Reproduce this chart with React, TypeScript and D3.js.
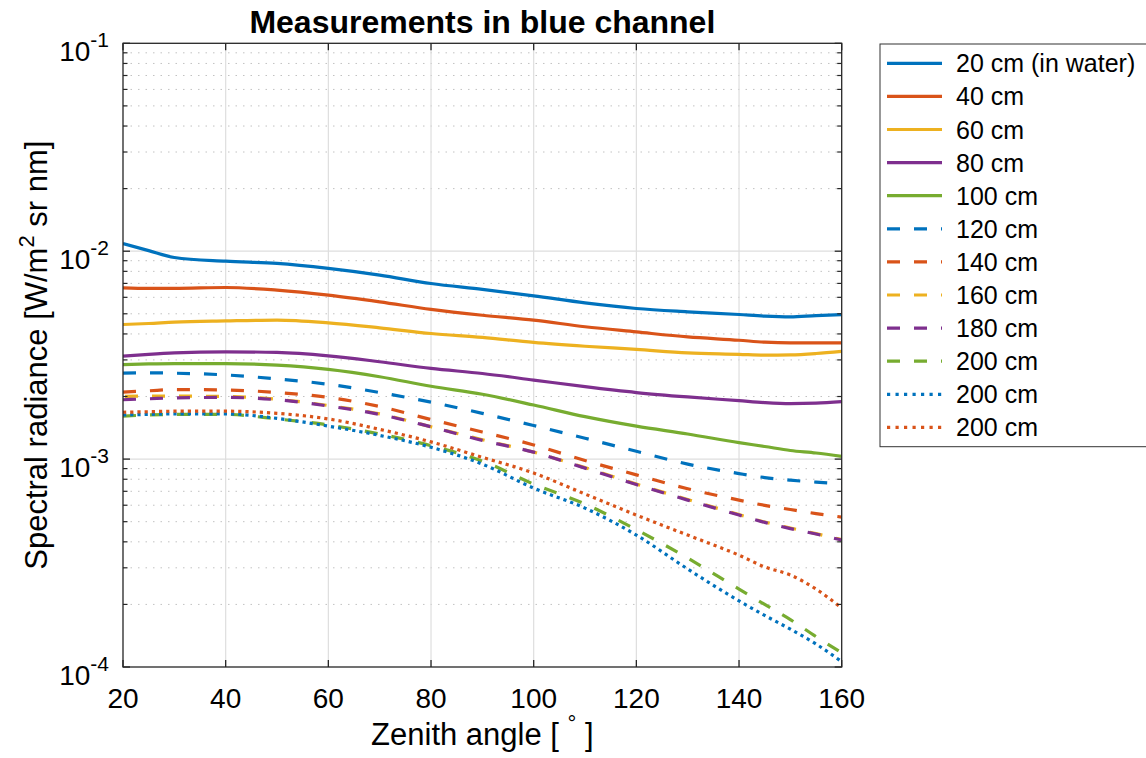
import React from "react";
import * as d3 from "d3";

const angles = [20, 25, 30, 40, 50, 60, 70, 80, 90, 100, 110, 120, 130, 140, 145, 150, 155, 160];

const s20 = [0.01089, 0.01006, 0.00933, 0.00895, 0.00873, 0.00826, 0.00767, 0.00699, 0.00655, 0.0061, 0.00564, 0.0053, 0.00511, 0.00496, 0.00487, 0.00483, 0.0049, 0.00495];
const s40 = [0.00666, 0.00662, 0.00662, 0.00669, 0.0065, 0.00615, 0.00571, 0.00525, 0.00492, 0.00466, 0.00433, 0.00409, 0.00387, 0.00373, 0.00365, 0.00362, 0.00362, 0.00362];
const s60 = [0.00444, 0.00449, 0.00456, 0.00462, 0.00466, 0.00452, 0.00428, 0.00402, 0.00385, 0.00364, 0.00349, 0.00337, 0.00324, 0.00319, 0.00316, 0.00317, 0.00322, 0.0033];
const s80 = [0.00313, 0.00319, 0.00324, 0.00328, 0.00326, 0.00314, 0.00294, 0.00273, 0.00258, 0.0024, 0.00223, 0.00209, 0.00199, 0.00191, 0.00187, 0.00185, 0.00186, 0.00189];
const s100 = [0.00285, 0.00287, 0.00288, 0.00288, 0.00283, 0.0027, 0.00249, 0.00224, 0.00205, 0.00182, 0.0016, 0.00144, 0.00132, 0.0012, 0.00115, 0.0011, 0.00107, 0.00103];
const s120 = [0.00259, 0.0026, 0.00259, 0.00254, 0.00243, 0.00229, 0.00209, 0.00188, 0.00166, 0.00145, 0.00126, 0.00109, 0.000946, 0.000852, 0.000815, 0.000792, 0.000775, 0.000762];
const s140 = [0.0021, 0.00213, 0.00216, 0.00215, 0.00209, 0.00198, 0.00179, 0.00155, 0.00135, 0.00117, 0.000984, 0.00084, 0.00072, 0.000635, 0.000599, 0.000572, 0.000547, 0.000526];
const s160 = [0.002, 0.00201, 0.00201, 0.002, 0.00194, 0.00181, 0.00165, 0.00143, 0.00124, 0.00108, 0.00091, 0.000758, 0.000639, 0.000541, 0.000498, 0.000466, 0.000438, 0.00041];
const s180 = [0.00193, 0.00195, 0.00197, 0.00198, 0.00193, 0.0018, 0.00164, 0.00143, 0.00123, 0.00108, 0.000905, 0.000754, 0.000635, 0.000538, 0.000496, 0.000463, 0.000436, 0.000408];
const s200a = [0.00161, 0.00163, 0.00164, 0.00164, 0.00156, 0.00146, 0.00132, 0.00116, 0.000978, 0.000758, 0.000608, 0.000458, 0.000334, 0.000237, 0.0002, 0.000169, 0.00014, 0.000117];
const s200b = [0.00163, 0.00164, 0.00165, 0.00165, 0.00157, 0.00144, 0.0013, 0.00114, 0.000946, 0.000725, 0.000581, 0.000431, 0.000296, 0.000208, 0.000177, 0.000152, 0.000129, 0.000106];
const s200c = [0.00168, 0.00169, 0.0017, 0.0017, 0.00166, 0.00156, 0.00139, 0.00121, 0.00102, 0.000857, 0.000679, 0.000538, 0.000431, 0.000345, 0.000303, 0.000277, 0.000237, 0.000192];

const seriesValues = [s20, s40, s60, s80, s100, s120, s140, s160, s180, s200a, s200b, s200c];
const seriesLabels = ["20 cm (in water)", "40 cm", "60 cm", "80 cm", "100 cm", "120 cm", "140 cm", "160 cm", "180 cm", "200 cm", "200 cm", "200 cm"];
const seriesStyles = ["solid", "solid", "solid", "solid", "solid", "dashed", "dashed", "dashed", "dashed", "dashed", "dotted", "dotted"];
const palette = ["#0072BD", "#D95319", "#EDB120", "#7E2F8E", "#77AC30"];

const xTicks = [20, 40, 60, 80, 100, 120, 140, 160];
const yExponents = [-4, -3, -2, -1];

const FONT = "'Liberation Sans', Arial, Helvetica, sans-serif";

export default function App() {
  const L = 123, R = 841.7, T = 43.3, B = 667;
  const x = d3.scaleLinear().domain([20, 160]).range([L, R]);
  const y = d3.scaleLog().domain([1e-4, 1e-1]).range([B, T]);

  const minorVals: number[] = [];
  for (let e = -4; e <= -2; e++) for (let m = 2; m <= 9; m++) minorVals.push(m * Math.pow(10, e));

  const line = d3
    .line<number>()
    .x((_, i) => x(angles[i]))
    .y((v) => y(v))
    .curve(d3.curveMonotoneX);

  const dashFor = (s: string) => (s === "dashed" ? "13,14" : s === "dotted" ? "3.2,4" : undefined);
  const axisColor = "#262626";

  const legX = 880, legY = 44, legH = 402.7, rowH = 33.1, firstRow = 63.3;

  return (
    <svg
      width={1146}
      height={758}
      style={{ position: "absolute", left: 0, top: 0, background: "#fff" }}
      fontFamily={FONT}
    >
      <rect x={0} y={0} width={1146} height={758} fill="#fff" />
      <defs>
        <clipPath id="plotclip">
          <rect x={L} y={T} width={R - L} height={B - T} />
        </clipPath>
      </defs>

      {/* minor grid */}
      {minorVals.map((v, i) => (
        <line key={"mg" + i} x1={L} x2={R} y1={y(v)} y2={y(v)} stroke="#c2c2c2" strokeWidth={1} strokeDasharray="1.5,6" />
      ))}
      {/* major grid */}
      {xTicks.slice(1, -1).map((t) => (
        <line key={"gx" + t} x1={x(t)} x2={x(t)} y1={T} y2={B} stroke="#dedede" strokeWidth={1.2} />
      ))}
      {yExponents.slice(1, -1).map((e) => (
        <line key={"gy" + e} x1={L} x2={R} y1={y(Math.pow(10, e))} y2={y(Math.pow(10, e))} stroke="#dedede" strokeWidth={1.2} />
      ))}

      {/* series */}
      <g clipPath="url(#plotclip)">
        {seriesValues.map((vals, i) => (
          <path
            key={"s" + i}
            d={line(vals) || ""}
            fill="none"
            stroke={palette[i % 5]}
            strokeWidth={3.2}
            strokeDasharray={dashFor(seriesStyles[i])}
            strokeDashoffset={i === 7 ? -2 : 0}
          />
        ))}
      </g>

      {/* axes box */}
      <rect x={L} y={T} width={R - L} height={B - T} fill="none" stroke={axisColor} strokeWidth={1.3} />

      {/* x ticks */}
      {xTicks.map((t) => (
        <g key={"xt" + t}>
          <line x1={x(t)} x2={x(t)} y1={B} y2={B - 7} stroke={axisColor} strokeWidth={1.3} />
          <line x1={x(t)} x2={x(t)} y1={T} y2={T + 7} stroke={axisColor} strokeWidth={1.3} />
          <text x={x(t)} y={708} fontSize={28} textAnchor="middle" fill="#000">
            {t}
          </text>
        </g>
      ))}

      {/* y ticks */}
      {yExponents.map((e) => {
        const yy = y(Math.pow(10, e));
        return (
          <g key={"yt" + e}>
            <line x1={L} x2={L + 7} y1={yy} y2={yy} stroke={axisColor} strokeWidth={1.3} />
            <line x1={R} x2={R - 7} y1={yy} y2={yy} stroke={axisColor} strokeWidth={1.3} />
            <text x={109} y={yy + 17.5} fontSize={28} textAnchor="end" fill="#000">
              10
              <tspan fontSize={21} dy={-13.5}>
                {String(e)}
              </tspan>
            </text>
          </g>
        );
      })}
      {minorVals.map((v, i) => (
        <g key={"ymt" + i}>
          <line x1={L} x2={L + 4.5} y1={y(v)} y2={y(v)} stroke={axisColor} strokeWidth={1.2} />
          <line x1={R} x2={R - 4.5} y1={y(v)} y2={y(v)} stroke={axisColor} strokeWidth={1.2} />
        </g>
      ))}

      {/* title */}
      <text x={(L + R) / 2} y={33} fontSize={32} fontWeight="bold" textAnchor="middle" fill="#000">
        Measurements in blue channel
      </text>

      {/* x label */}
      <text x={(L + R) / 2} y={745} fontSize={31} textAnchor="middle" fill="#000">
        Zenith angle [ <tspan fontSize={22} dy={-14}>°</tspan>
        <tspan dy={14}> ]</tspan>
      </text>

      {/* y label */}
      <text transform={`translate(47, ${(T + B) / 2}) rotate(-90)`} fontSize={31} textAnchor="middle" fill="#000">
        Spectral radiance [W/m<tspan fontSize={22} dy={-13}>2</tspan>
        <tspan dy={13}> sr nm]</tspan>
      </text>

      {/* legend */}
      <rect x={legX} y={legY} width={300} height={legH} fill="#fff" stroke="#333" strokeWidth={1} />
      {seriesLabels.map((lab, i) => {
        const cy = firstRow + i * rowH;
        return (
          <g key={"lg" + i}>
            <line
              x1={887}
              x2={942}
              y1={cy}
              y2={cy}
              stroke={palette[i % 5]}
              strokeWidth={3.2}
              strokeDasharray={seriesStyles[i] === "dotted" ? "3.2,5.3" : dashFor(seriesStyles[i])}
            />
            <text x={956} y={cy + 9} fontSize={25} fill="#000">
              {lab}
            </text>
          </g>
        );
      })}
    </svg>
  );
}
